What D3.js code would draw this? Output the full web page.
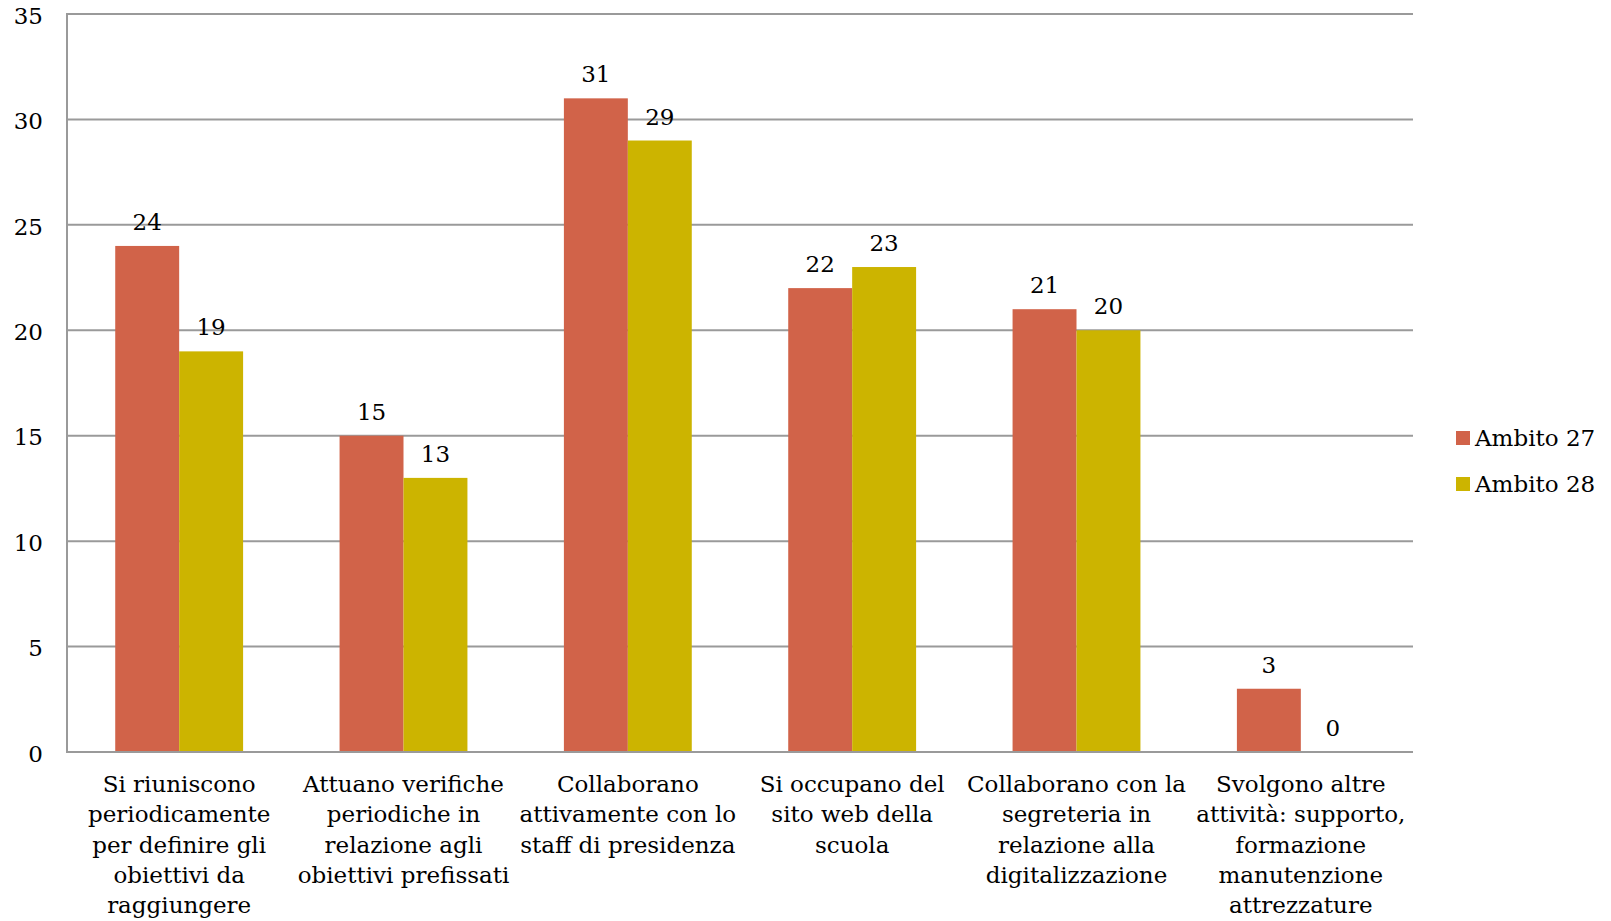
<!DOCTYPE html>
<html><head><meta charset="utf-8">
<script src="https://cdn.jsdelivr.net/npm/d3@7"></script>
<style>body{margin:0;background:#fff;} svg{display:block;}</style>
</head><body>
<svg id="chart" width="1611" height="921"></svg>
<script>
const categories = [
  ["Si riuniscono","periodicamente","per definire gli","obiettivi da","raggiungere"],
  ["Attuano verifiche","periodiche in","relazione agli","obiettivi prefissati"],
  ["Collaborano","attivamente con lo","staff di presidenza"],
  ["Si occupano del","sito web della","scuola"],
  ["Collaborano con la","segreteria in","relazione alla","digitalizzazione"],
  ["Svolgono altre","attività: supporto,","formazione","manutenzione","attrezzature"]
];
const seriesNames = ["Ambito 27","Ambito 28"];
const ambito27 = [24,15,31,22,21,3];
const ambito28 = [19,13,29,23,20,0];
const yTicks = [0,5,10,15,20,25,30,35];
const colors = ["#D16349","#CCB400"];

const FONT = "'DejaVu Serif', Georgia, serif";
const FS = 23;
const svg = d3.select("#chart");
const m = {left:67, right:1413, top:14, bottom:752};
const x = d3.scaleBand().domain(d3.range(categories.length)).range([m.left,m.right]).paddingInner(0).paddingOuter(0);
const bw = x.bandwidth()*0.285;
const y = d3.scaleLinear().domain([0,35]).range([m.bottom,m.top]);

// grid
svg.append("g").selectAll("line").data(yTicks.filter(d=>d>0)).join("line")
  .attr("x1",m.left).attr("x2",m.right).attr("y1",d=>y(d)).attr("y2",d=>y(d))
  .attr("stroke","#9a9a9a").attr("stroke-width",2);

// y labels
svg.append("g").selectAll("text").data(yTicks).join("text")
  .attr("x",43).attr("y",d=>y(d)).attr("dy","0.42em").attr("text-anchor","end")
  .attr("font-family",FONT).attr("font-size",FS).attr("fill","#000").text(d=>d);

const series = [ambito27, ambito28];
series.forEach((vals,si)=>{
  const g = svg.append("g");
  g.selectAll("rect").data(vals).join("rect")
    .attr("x",(d,i)=>x(i)+x.bandwidth()/2 - bw + si*bw)
    .attr("width",bw)
    .attr("y",d=>y(d)).attr("height",d=>y(0)-y(d))
    .attr("fill",colors[si]);
  g.selectAll("text").data(vals).join("text")
    .attr("x",(d,i)=>x(i)+x.bandwidth()/2 - bw/2 + si*bw)
    .attr("y",d=>y(d)-16)
    .attr("text-anchor","middle")
    .attr("font-family",FONT).attr("font-size",FS).attr("fill","#000").text(d=>d);
});

// axes lines
svg.append("line").attr("x1",m.left).attr("x2",m.left).attr("y1",m.top-1).attr("y2",m.bottom+1)
  .attr("stroke","#9a9a9a").attr("stroke-width",2);
svg.append("line").attr("x1",m.left).attr("x2",m.right).attr("y1",m.bottom).attr("y2",m.bottom)
  .attr("stroke","#9a9a9a").attr("stroke-width",2);

// x labels
const xl = svg.append("g");
categories.forEach((lines,i)=>{
  const t = xl.append("text").attr("text-anchor","middle")
    .attr("font-family",FONT).attr("font-size",FS).attr("fill","#000");
  lines.forEach((ln,j)=>{
    t.append("tspan").attr("x",x(i)+x.bandwidth()/2).attr("y",792+j*30.3).text(ln);
  });
});

// legend
const lg = svg.append("g");
seriesNames.forEach((n,i)=>{
  lg.append("rect").attr("x",1456).attr("y",431+i*46).attr("width",14).attr("height",14).attr("fill",colors[i]);
  lg.append("text").attr("x",1475).attr("y",446+i*46)
    .attr("font-family",FONT).attr("font-size",FS).attr("fill","#000").text(n);
});
</script>
</body></html>
